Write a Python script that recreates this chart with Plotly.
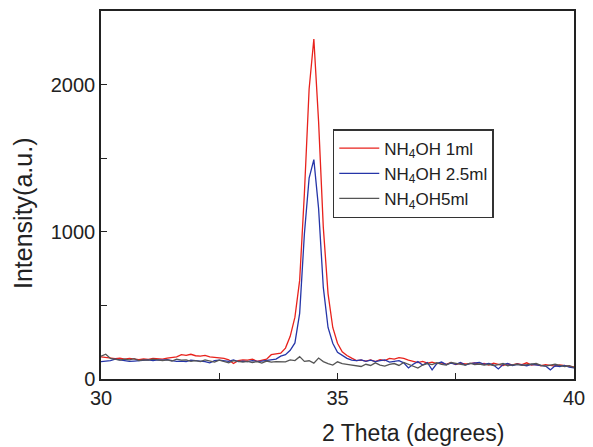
import numpy as np
import plotly.graph_objects as go

two_theta = np.round(np.arange(30.0, 40.0001, 0.1), 1)

nh4oh_1ml = [
    150, 145, 140, 138, 142, 135, 140, 138, 132, 136,
    134, 140, 138, 135, 142, 145, 150, 165, 160, 168,
    158, 155, 160, 150, 148, 145, 140, 130, 105, 125,
    130, 128, 135, 120, 125, 135, 165, 170, 176, 210,
    290, 420, 670, 1260, 1970, 2310, 1750, 1030, 580, 350,
    243, 185, 160, 142, 125, 128, 122, 130, 118, 132,
    125, 140, 135, 145, 140, 128, 118, 112, 120, 108,
    115, 105, 110, 100, 112, 98, 108, 102, 105, 110,
    100, 105, 95, 108, 100, 92, 102, 96, 104, 98,
    110, 95, 100, 90, 98, 92, 88, 95, 90, 85,
    83,
]

nh4oh_2_5ml = [
    118, 120, 125, 135, 130, 128, 120, 122, 125, 128,
    130, 125, 130, 128, 132, 125, 120, 122, 118, 128,
    125, 120, 118, 110, 125, 128, 122, 120, 130, 118,
    122, 118, 125, 120, 122, 125, 130, 135, 155, 165,
    195, 245, 446, 985, 1365, 1490, 1160, 622, 350, 243,
    182, 162, 140, 128, 125, 130, 120, 128, 118, 125,
    130, 115, 120, 125, 110, 75, 100, 118, 95, 112,
    62, 105, 115, 98, 108, 100, 112, 95, 105, 110,
    112, 100, 105, 95, 68, 98, 105, 92, 100, 96,
    90, 100, 95, 92, 88, 62, 90, 85, 92, 80,
    75,
]

nh4oh_5ml = [
    155, 168, 140, 132, 128, 135, 130, 138, 125, 130,
    128, 135, 132, 125, 130, 122, 135, 128, 130, 120,
    125, 118, 130, 122, 115, 128, 120, 110, 125, 118,
    115, 120, 112, 118, 108, 122, 115, 118, 120, 117,
    130, 125, 152, 120, 124, 108, 142, 118, 105, 95,
    117, 105, 100, 95, 90, 85, 100, 92, 110, 95,
    88, 100, 105, 92, 112, 98, 85, 74, 95, 105,
    98, 110, 100, 95, 112, 105, 100, 95, 108, 98,
    102, 95, 100, 92, 98, 105, 90, 95, 100, 92,
    95, 100, 105, 92, 88, 95, 100, 92, 85, 90,
    78,
]

series_names = ["NH<sub>4</sub>OH 1ml", "NH<sub>4</sub>OH 2.5ml", "NH<sub>4</sub>OH5ml"]
series_values = [nh4oh_1ml, nh4oh_2_5ml, nh4oh_5ml]
series_colors = ["#e8221c", "#2535a8", "#555555"]

x_title = "2 Theta (degrees)"
y_title = "Intensity(a.u.)"

FONT = "Liberation Sans, Arial, sans-serif"

fig = go.Figure()
for name, vals, col in zip(series_names, series_values, series_colors):
    fig.add_trace(go.Scatter(x=two_theta, y=vals, mode="lines", name=name,
                             line=dict(color=col, width=1.3)))

# page body has an 8px default margin; figure sized to fit the 593x447 window
fig.update_layout(
    width=585, height=439,
    margin=dict(l=93, r=19, t=1, b=68),
    paper_bgcolor="white", plot_bgcolor="white",
    font=dict(family=FONT, color="#222222", size=18),
    showlegend=True,
    legend=dict(x=0.49, y=0.679, xanchor="left", yanchor="top",
                bgcolor="white", bordercolor="#333333", borderwidth=1.5,
                font=dict(family=FONT, size=17, color="#222222"),
                tracegroupgap=0, itemwidth=40),
    annotations=[
        dict(text=x_title, xref="paper", yref="paper", x=0.66, y=-0.146,
             xanchor="center", yanchor="middle", showarrow=False,
             font=dict(family=FONT, size=23, color="#222222")),
        dict(text=y_title, xref="paper", yref="paper", x=-0.165, y=0.451,
             xanchor="center", yanchor="middle", showarrow=False, textangle=-90,
             font=dict(family=FONT, size=25, color="#222222")),
    ],
)
fig.update_xaxes(
    range=[30, 40], dtick=5, tick0=30,
    ticks="inside", ticklen=6, tickwidth=1.2, tickcolor="#222222",
    minor=dict(dtick=2.5, ticks="inside", ticklen=6, tickwidth=1.2, tickcolor="#222222"),
    showline=True, linecolor="#222222", linewidth=1.5, mirror=True,
    showgrid=False, zeroline=False,
    tickfont=dict(size=20),
)
fig.update_yaxes(
    range=[0, 2500], dtick=1000, tick0=0,
    ticks="inside", ticklen=6, tickwidth=1.2, tickcolor="#222222",
    minor=dict(dtick=500, ticks="inside", ticklen=6, tickwidth=1.2, tickcolor="#222222"),
    showline=True, linecolor="#222222", linewidth=1.5, mirror=True,
    showgrid=False, zeroline=False,
    tickfont=dict(size=20),
)

fig.write_html("out.html")
